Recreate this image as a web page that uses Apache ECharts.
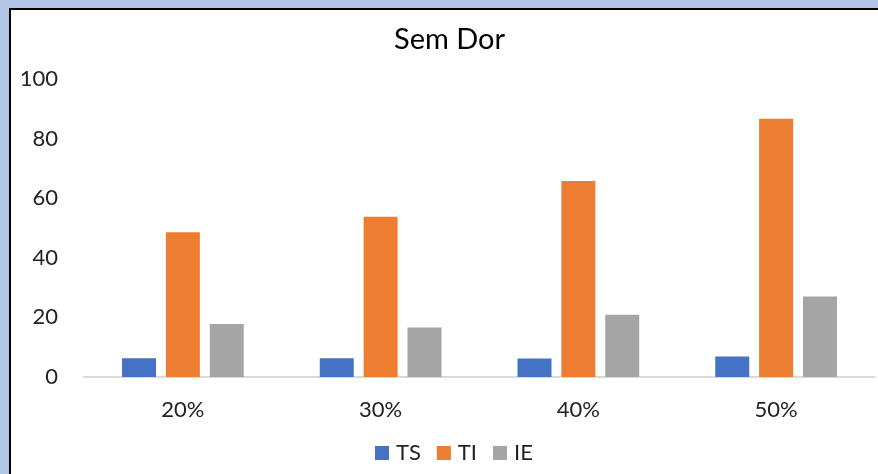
<!DOCTYPE html>
<html>
<head>
<meta charset="utf-8">
<script src="https://cdn.jsdelivr.net/npm/echarts@6/dist/echarts.min.js"></script>
<style>
html,body{margin:0;padding:0;background:#fff;}
#chart{width:878px;height:474px;}
</style>
</head>
<body>
<div id="chart"></div>
<script>
var categories = ['20%', '30%', '40%', '50%'];
var seriesNames = ['TS', 'TI', 'IE'];
var tsValues = [6.3, 6.3, 6.2, 6.9];
var tiValues = [48.6, 53.8, 65.8, 86.7];
var ieValues = [17.8, 16.6, 20.9, 27];
var yTicks = [0, 20, 40, 60, 80, 100];

var FONT = 'Lato';
var chart = echarts.init(document.getElementById('chart'));
chart.setOption({
  animation: false,
  backgroundColor: '#ffffff',
  textStyle: { fontFamily: FONT },
  title: {
    text: 'Sem Dor',
    left: 389,
    top: 20,
    textStyle: { fontFamily: FONT, fontSize: 29, fontWeight: 'normal', color: '#000' }
  },
  legend: {
    data: seriesNames,
    bottom: 5,
    left: 370,
    icon: 'rect',
    itemWidth: 14,
    itemHeight: 14,
    itemGap: 16,
    textStyle: { fontFamily: FONT, fontSize: 22, color: '#222', padding: [0, 0, 0, 2] }
  },
  grid: { left: 84, right: 3, top: 79, bottom: 97, containLabel: false },
  xAxis: {
    type: 'category',
    data: categories,
    axisTick: { show: false },
    axisLine: { lineStyle: { color: '#D9D9D9', width: 2 } },
    axisLabel: { fontFamily: FONT, fontSize: 22, color: '#222', margin: 22 }
  },
  yAxis: {
    type: 'value',
    min: yTicks[0],
    max: yTicks[yTicks.length - 1],
    interval: 20,
    axisLine: { show: false },
    axisTick: { show: false },
    splitLine: { show: false },
    axisLabel: { fontFamily: FONT, fontSize: 22, color: '#222', margin: 26 }
  },
  series: [
    { name: seriesNames[0], type: 'bar', data: tsValues, barWidth: 34, barGap: '29%', itemStyle: { color: '#4472C4' } },
    { name: seriesNames[1], type: 'bar', data: tiValues, barWidth: 34, barGap: '29%', itemStyle: { color: '#ED7D31' } },
    { name: seriesNames[2], type: 'bar', data: ieValues, barWidth: 34, barGap: '29%', itemStyle: { color: '#A5A5A5' } }
  ],
  graphic: [
    { type: 'rect', shape: { x: 0, y: 0, width: 878, height: 8 }, style: { fill: '#B4C6E7' }, silent: true },
    { type: 'rect', shape: { x: 0, y: 0, width: 9, height: 474 }, style: { fill: '#B4C6E7' }, silent: true },
    { type: 'rect', shape: { x: 9, y: 8, width: 869, height: 2 }, style: { fill: '#000' }, silent: true },
    { type: 'rect', shape: { x: 9, y: 8, width: 2, height: 466 }, style: { fill: '#000' }, silent: true }
  ]
});
</script>
</body>
</html>
